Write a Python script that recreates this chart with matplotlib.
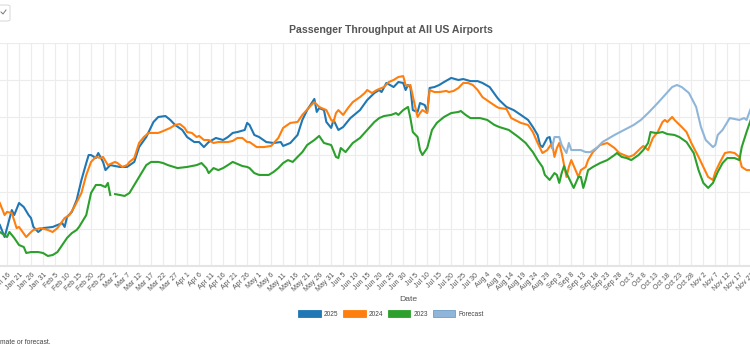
import numpy as np
import pandas as pd
import matplotlib
matplotlib.use("Agg")
import matplotlib.pyplot as plt
from matplotlib.patches import Patch, FancyBboxPatch
from matplotlib.lines import Line2D
import matplotlib.ticker as mticker

plt.rcParams['font.family'] = ['Liberation Sans', 'DejaVu Sans']

# ---- data (day of year in 2025 calendar, daily passengers in millions) ----
doy_2025 = [13, 15, 18, 19, 21, 23, 25, 26, 27, 29, 31, 35, 39, 40, 41, 43, 45, 47, 49, 50,
            51, 53, 54, 56, 57, 59, 63, 66, 69, 71, 74, 77, 79, 82, 84, 86, 89, 91, 94, 96,
            98, 100, 103, 106, 108, 110, 112, 115, 116, 117, 119, 121, 124, 127, 130, 131, 134, 137, 139, 141,
            144, 145, 146, 148, 149, 151, 152, 154, 156, 159, 163, 166, 169, 171, 172, 174, 177, 179, 181, 182,
            183, 184, 185, 187, 188, 190, 191, 192, 194, 196, 198, 201, 204, 206, 209, 212, 214, 217, 220, 221,
            224, 227, 230, 233, 235, 237, 238, 239, 241, 242, 243]
val_2025 = [1.821, 1.756, 1.901, 1.874, 1.939, 1.917, 1.874, 1.858, 1.810, 1.783, 1.804, 1.810, 1.831, 1.810, 1.864, 1.891, 1.955, 2.063, 2.154, 2.197,
            2.197, 2.181, 2.208, 2.160, 2.116, 2.143, 2.133, 2.133, 2.160, 2.240, 2.294, 2.375, 2.402, 2.407, 2.386, 2.359, 2.332, 2.294, 2.267, 2.267,
            2.240, 2.267, 2.289, 2.278, 2.294, 2.316, 2.321, 2.332, 2.370, 2.359, 2.305, 2.294, 2.267, 2.262, 2.267, 2.246, 2.262, 2.305, 2.386, 2.439,
            2.499, 2.429, 2.450, 2.439, 2.375, 2.343, 2.386, 2.332, 2.348, 2.396, 2.439, 2.493, 2.531, 2.547, 2.536, 2.585, 2.563, 2.590, 2.585, 2.547,
            2.574, 2.563, 2.439, 2.429, 2.477, 2.466, 2.429, 2.558, 2.563, 2.574, 2.590, 2.612, 2.601, 2.606, 2.595, 2.595, 2.585, 2.563, 2.509, 2.493,
            2.456, 2.439, 2.413, 2.386, 2.348, 2.305, 2.251, 2.240, 2.289, 2.294, 2.235]

doy_2024 = [13, 15, 16, 18, 20, 21, 24, 26, 27, 30, 33, 35, 37, 40, 42, 44, 47, 49, 51, 53,
            55, 56, 58, 60, 61, 62, 64, 66, 67, 69, 71, 73, 75, 79, 81, 84, 86, 88, 90, 91,
            93, 95, 96, 98, 100, 102, 104, 106, 108, 110, 112, 114, 116, 117, 120, 123, 126, 129, 131, 134,
            137, 139, 142, 144, 146, 147, 149, 151, 152, 153, 154, 156, 158, 160, 163, 165, 166, 168, 170, 173,
            175, 177, 179, 181, 182, 183, 184, 186, 187, 188, 189, 191, 192, 194, 196, 199, 200, 202, 204, 206,
            208, 210, 212, 214, 217, 220, 221, 224, 226, 230, 233, 235, 237, 239, 241, 243, 244, 245, 246, 247,
            249, 250, 251, 254, 255, 257, 258, 260, 263, 266, 269, 271, 273, 275, 277, 280, 281, 283, 285, 287,
            289, 290, 291, 293, 294, 297, 299, 301, 304, 306, 308, 310, 311, 313, 315, 317, 319, 321, 322, 324, 326]
val_2024 = [1.939, 1.874, 1.891, 1.885, 1.804, 1.810, 1.756, 1.783, 1.794, 1.804, 1.794, 1.783, 1.804, 1.858, 1.874, 1.917, 1.993, 2.090, 2.160, 2.187,
            2.181, 2.187, 2.143, 2.154, 2.160, 2.154, 2.133, 2.143, 2.160, 2.181, 2.262, 2.294, 2.316, 2.316, 2.326, 2.343, 2.359, 2.364, 2.343, 2.321,
            2.316, 2.294, 2.300, 2.278, 2.278, 2.262, 2.267, 2.267, 2.267, 2.273, 2.289, 2.289, 2.267, 2.267, 2.240, 2.240, 2.246, 2.289, 2.343, 2.370,
            2.375, 2.413, 2.456, 2.482, 2.456, 2.450, 2.439, 2.386, 2.375, 2.423, 2.439, 2.413, 2.450, 2.482, 2.509, 2.531, 2.547, 2.531, 2.547, 2.563,
            2.590, 2.601, 2.617, 2.622, 2.574, 2.569, 2.574, 2.456, 2.402, 2.423, 2.439, 2.423, 2.547, 2.536, 2.536, 2.542, 2.536, 2.542, 2.558, 2.585,
            2.585, 2.574, 2.547, 2.509, 2.482, 2.456, 2.450, 2.445, 2.396, 2.370, 2.359, 2.321, 2.262, 2.208, 2.224, 2.262, 2.187, 2.235, 2.262, 2.208,
            2.079, 2.133, 2.170, 2.079, 2.116, 2.133, 2.170, 2.213, 2.251, 2.262, 2.235, 2.208, 2.197, 2.187, 2.197, 2.235, 2.246, 2.224, 2.289, 2.321,
            2.375, 2.386, 2.375, 2.402, 2.386, 2.348, 2.321, 2.262, 2.187, 2.133, 2.079, 2.063, 2.106, 2.160, 2.208, 2.213, 2.208, 2.187, 2.133, 2.116, 2.116]

doy_2023 = [13, 16, 17, 19, 21, 23, 24, 26, 29, 31, 33, 35, 37, 39, 41, 43, 45, 46, 49, 51,
            53, 55, 57, 58, 59, 60, 61, 63, 65, 67, 69, 71, 74, 76, 79, 81, 83, 87, 91, 95,
            97, 99, 100, 102, 104, 106, 108, 110, 112, 114, 116, 117, 119, 121, 125, 127, 129, 131, 133, 135,
            137, 139, 141, 144, 146, 148, 151, 153, 154, 155, 157, 160, 163, 166, 169, 171, 173, 176, 178, 179,
            181, 183, 184, 185, 187, 188, 189, 191, 193, 195, 198, 201, 204, 205, 207, 209, 213, 216, 219, 221,
            225, 229, 232, 235, 237, 239, 240, 242, 244, 245, 246, 247, 248, 249, 251, 252, 254, 255, 256, 257,
            258, 260, 263, 266, 269, 270, 272, 274, 276, 279, 281, 283, 284, 286, 287, 289, 291, 294, 296, 299,
            302, 304, 306, 308, 310, 312, 314, 316, 319, 321, 322, 324, 326]
val_2023 = [1.783, 1.756, 1.783, 1.751, 1.713, 1.702, 1.670, 1.675, 1.675, 1.670, 1.654, 1.659, 1.675, 1.713, 1.751, 1.777, 1.794, 1.810, 1.874, 1.993,
            2.036, 2.036, 2.025, 2.047, 1.982, np.nan, 1.987, 1.982, 1.977, 1.993, 2.036, 2.079, 2.143, 2.160, 2.160, 2.154, 2.143, 2.127, 2.133, 2.143,
            2.154, 2.127, 2.100, 2.127, 2.116, 2.127, 2.143, 2.160, 2.149, 2.138, 2.133, 2.127, 2.100, 2.090, 2.090, 2.106, 2.127, 2.154, 2.170, 2.160,
            2.187, 2.213, 2.251, 2.278, 2.300, 2.262, 2.251, 2.187, 2.181, 2.235, 2.213, 2.262, 2.289, 2.332, 2.375, 2.396, 2.407, 2.413, 2.423, 2.413,
            2.439, 2.456, 2.396, 2.321, 2.294, 2.224, 2.197, 2.235, 2.332, 2.370, 2.402, 2.423, 2.429, 2.434, 2.413, 2.396, 2.396, 2.386, 2.359, 2.348,
            2.332, 2.294, 2.262, 2.213, 2.170, 2.133, 2.090, 2.063, 2.100, 2.090, 2.047, 2.100, 2.138, 2.100, 2.047, 2.020, 2.079, 2.079, 2.020, 2.063,
            2.116, 2.133, 2.154, 2.170, 2.197, 2.208, 2.187, 2.181, 2.170, 2.197, 2.224, 2.262, 2.321, 2.316, 2.316, 2.321, 2.310, 2.305, 2.294, 2.267,
            2.208, 2.116, 2.047, 2.020, 2.047, 2.106, 2.154, 2.181, 2.181, 2.170, 2.240, 2.321, 2.396]

doy_forecast = [243, 244, 246, 247, 249, 250, 251, 253, 255, 257, 259, 262, 264, 269, 273, 277, 280, 283, 287, 290,
                293, 295, 297, 300, 303, 305, 307, 310, 311, 312, 314, 317, 319, 321, 323, 324, 326]
val_forecast = [2.235, 2.294, 2.294, 2.251, 2.208, 2.262, 2.224, 2.224, 2.224, 2.213, 2.213, 2.240, 2.267, 2.305, 2.332, 2.359, 2.386, 2.423, 2.477, 2.520,
                2.563, 2.574, 2.563, 2.531, 2.456, 2.348, 2.278, 2.240, 2.251, 2.305, 2.332, 2.396, 2.391, 2.386, 2.396, 2.386, 2.456]

series_names = ["2025", "2024", "2023", "Forecast"]
series_colors = ["#1f77b4", "#ff7f0e", "#2ca02c", "#8fb6d9"]

W, H = 750, 350
fig = plt.figure(figsize=(W / 100, H / 100), dpi=100)

# plot area spans Jan 1 .. Dec 31 and is wider than the cropped view
left_px, right_px, top_px, bot_px = -29, 845, 43, 266
ax = fig.add_axes([left_px / W, 1 - bot_px / H, (right_px - left_px) / W, (bot_px - top_px) / H])

base = np.datetime64("2025-01-01")


def to_dates(d):
    return base + (np.array(d) - 1).astype("timedelta64[D]")


data = [(doy_2025, val_2025), (doy_2024, val_2024), (doy_2023, val_2023), (doy_forecast, val_forecast)]
for i, ((d, v), name, col) in enumerate(zip(data, series_names, series_colors)):
    ax.plot(to_dates(d), v, color=col, lw=1.5, zorder=3 + i, solid_joinstyle="round")

ax.set_xlim(np.datetime64("2025-01-01"), np.datetime64("2025-12-31"))
ax.set_ylim(1.6, 2.8)
ax.yaxis.set_major_locator(mticker.MultipleLocator(0.2))

ticks = pd.date_range("2025-01-01", "2025-12-31", freq="5D")
vis_start, vis_end = pd.Timestamp("2025-01-16"), pd.Timestamp("2025-11-22")
ax.set_xticks(ticks)
ax.set_xticklabels([f"{t:%b} {t.day}" if vis_start <= t <= vis_end else "" for t in ticks],
                   rotation=45, ha="right", rotation_mode="anchor", fontsize=5, color="#555555")
ax.tick_params(axis="x", length=0, pad=4)
ax.tick_params(axis="y", length=0, labelleft=False)

ax.grid(True, color="#ececec", lw=0.8, zorder=0)
for s in ["left", "right", "top"]:
    ax.spines[s].set_visible(False)
ax.spines["bottom"].set_color("#e4e4e4")
ax.spines["bottom"].set_linewidth(1.5)

ax.set_xlabel("Date", fontsize=6.1, color="#555555", labelpad=12)
ax.xaxis.set_label_coords((408 - left_px) / (right_px - left_px), -(296 - bot_px) / (bot_px - top_px))

fig.text(391 / W, 1 - 30 / H, "Passenger Throughput at All US Airports", ha="center", va="center",
         fontsize=7.6, fontweight="bold", color="#555555")

handles = [Patch(facecolor=c, edgecolor=c if n != "Forecast" else "#6f9cc8", lw=0.6) for n, c in zip(series_names, series_colors)]
leg = fig.legend(handles, series_names, loc="center", bbox_to_anchor=(391 / W, 1 - 314 / H), ncol=4,
                 frameon=False, fontsize=4.7, handlelength=3.4, handleheight=1.2, handletextpad=0.45,
                 columnspacing=0.8, labelcolor="#444444")

fig.text(0, 1 - 342 / H, "mate or forecast.", ha="left", va="center", fontsize=4.9, color="#444444")

# small dropdown widget at top-left (cropped)
fig.patches.append(FancyBboxPatch((-12 / W, 1 - 21 / H), 22 / W, 16 / H, boxstyle="round,pad=0,rounding_size=0.004",
                                  transform=fig.transFigure, facecolor="white", edgecolor="#d6d6d6", lw=0.7))
fig.lines.append(Line2D([1 / W, 3 / W, 6 / W], [1 - 12 / H, 1 - 14 / H, 1 - 10 / H], transform=fig.transFigure,
                        color="#777777", lw=0.7))

fig.savefig("out.png", dpi=100)
